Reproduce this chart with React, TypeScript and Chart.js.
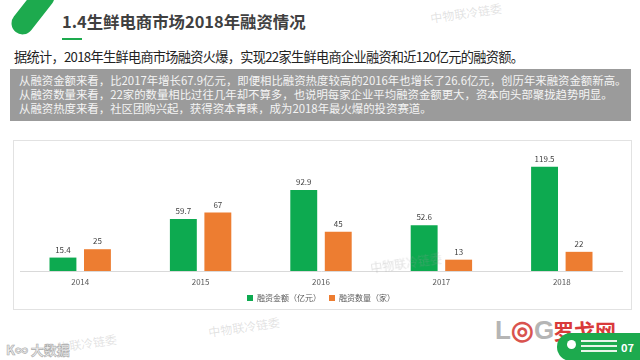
import React, { useEffect, useRef } from "react";
import { Chart, registerables } from "chart.js";

Chart.register(...registerables);

const years = ["2014", "2015", "2016", "2017", "2018"];
const amountSeries = [15.4, 59.7, 92.9, 52.6, 119.5];
const countSeries = [25, 67, 45, 13, 22];
const seriesNames = ["融资金额（亿元）", "融资数量（家）"];
const colors = ["#0DAA50", "#ED7D31"];

const FONT = '"Noto Sans CJK SC", "Noto Sans", sans-serif';

const valueLabels = {
  id: "valueLabels",
  afterDatasetsDraw(chart: any) {
    const ctx = chart.ctx;
    ctx.save();
    ctx.font = `8px ${FONT}`;
    ctx.fillStyle = "#404040";
    ctx.textAlign = "center";
    ctx.textBaseline = "bottom";
    chart.data.datasets.forEach((ds: any, i: number) => {
      const meta = chart.getDatasetMeta(i);
      meta.data.forEach((bar: any, j: number) => {
        ctx.fillText(String(ds.data[j]), bar.x, bar.y - 4);
      });
    });
    ctx.restore();
  },
};

function BarChart() {
  const ref = useRef<HTMLCanvasElement | null>(null);
  useEffect(() => {
    if (!ref.current) return;
    const chart = new Chart(ref.current, {
      type: "bar",
      data: {
        labels: years,
        datasets: [
          { label: seriesNames[0], data: amountSeries, backgroundColor: colors[0] },
          { label: seriesNames[1], data: countSeries, backgroundColor: colors[1] },
        ],
      },
      options: {
        responsive: false,
        animation: false,
        layout: { padding: { left: 6, right: 8, top: 8, bottom: 0 } },
        datasets: {
          bar: { categoryPercentage: 0.573, barPercentage: 0.78 },
        },
        scales: {
          x: {
            grid: { display: false, drawTicks: false },
            border: { color: "#d9d9d9", width: 1 },
            ticks: { font: { size: 8, family: FONT }, color: "#595959", padding: 6 },
            afterFit(scale: any) {
              scale.height = 15;
            },
          },
          y: { display: false, min: 0, max: 140 },
        },
        plugins: {
          legend: {
            position: "bottom",
            labels: {
              boxWidth: 6,
              boxHeight: 6,
              padding: 8,
              font: { size: 8, family: FONT },
              color: "#595959",
            },
          },
          tooltip: { enabled: false },
        },
      },
      plugins: [valueLabels],
    });
    return () => chart.destroy();
  }, []);
  return (
    <canvas
      ref={ref}
      width={616}
      height={171}
      style={{ position: "absolute", left: 14, top: 141, width: 616, height: 171 }}
    />
  );
}

const wm: React.CSSProperties = {
  position: "absolute",
  color: "rgba(150,150,150,0.28)",
  fontSize: 12,
  fontFamily: FONT,
  transform: "rotate(-8deg)",
  whiteSpace: "nowrap",
};

export default function App() {
  return (
    <div
      style={{
        position: "absolute",
        left: 0,
        top: 0,
        width: 640,
        height: 360,
        background: "#ffffff",
        overflow: "hidden",
        fontFamily: FONT,
      }}
    >
      {/* green leaf */}
      <div
        style={{
          position: "absolute",
          left: 22,
          top: -18,
          width: 22,
          height: 56,
          borderRadius: 11,
          background: "#1DAA4E",
          transform: "rotate(38deg)",
        }}
      />
      <div
        style={{
          position: "absolute",
          left: 62,
          top: 9,
          fontSize: 16.4,
          fontWeight: 700,
          color: "#404040",
          whiteSpace: "nowrap",
        }}
      >
        1.4生鲜电商市场2018年融资情况
      </div>
      <div
        style={{ position: "absolute", left: 62, top: 38, width: 20, height: 2, background: "#1DAA4E" }}
      />
      <div
        style={{
          position: "absolute",
          left: 14,
          top: 47,
          fontSize: 13.2,
          letterSpacing: -0.7,
          color: "#222",
          whiteSpace: "nowrap",
        }}
      >
        据统计，2018年生鲜电商市场融资火爆，实现22家生鲜电商企业融资和近120亿元的融资额。
      </div>
      <div
        style={{
          position: "absolute",
          left: 10,
          top: 69,
          width: 621,
          height: 52,
          background: "#9b9b9b",
        }}
      />
      <div
        style={{
          position: "absolute",
          left: 19,
          top: 73,
          fontSize: 11.4,
          lineHeight: "14px",
          color: "#f4f4f4",
          whiteSpace: "nowrap",
        }}
      >
        <div>从融资金额来看，比2017年增长67.9亿元，即便相比融资热度较高的2016年也增长了26.6亿元，创历年来融资金额新高。</div>
        <div>从融资数量来看，22家的数量相比过往几年却不算多，也说明每家企业平均融资金额更大，资本向头部聚拢趋势明显。</div>
        <div>从融资热度来看，社区团购兴起，获得资本青睐，成为2018年最火爆的投资赛道。</div>
      </div>
      {/* chart frame */}
      <div
        style={{
          position: "absolute",
          left: 13,
          top: 140,
          width: 617,
          height: 168,
          border: "1px solid #e2e2e2",
        }}
      />
      <BarChart />
      {/* watermarks */}
      <div style={{ ...wm, left: 430, top: 4 }}>中物联冷链委</div>
      <div style={{ ...wm, left: 370, top: 254 }}>中物联冷链委</div>
      <div style={{ ...wm, left: 208, top: 318 }}>中物联冷链委</div>
      <div style={{ ...wm, left: 45, top: 335 }}>中物联冷链委</div>
      {/* bottom-left logo */}
      <div
        style={{
          position: "absolute",
          left: 6,
          top: 340,
          fontSize: 13,
          fontWeight: 700,
          color: "#eeeeee",
          WebkitTextStroke: "0.6px #aaaaaa",
          whiteSpace: "nowrap",
        }}
      >
        K∞ 大数据
      </div>
      {/* bottom-right logo */}
      <div
        style={{
          position: "absolute",
          left: 495,
          top: 315,
          fontSize: 26,
          fontWeight: 700,
          color: "#b5b5b5",
          fontFamily: '"Liberation Sans", sans-serif',
          whiteSpace: "nowrap",
        }}
      >
        L<span style={{ color: "#d9534f" }}>◎</span>G
      </div>
      <div
        style={{
          position: "absolute",
          left: 553,
          top: 315,
          fontSize: 21,
          fontWeight: 700,
          color: "#d93a3a",
          whiteSpace: "nowrap",
        }}
      >
        罗戈网
      </div>
      <div
        style={{
          position: "absolute",
          left: 557,
          top: 333,
          width: 100,
          height: 28,
          borderRadius: 14,
          background: "#1DAA4E",
        }}
      />
      <div
        style={{
          position: "absolute",
          left: 567,
          top: 340,
          width: 9,
          height: 9,
          borderRadius: 5,
          background: "#ffffff",
        }}
      />
      <div style={{ position: "absolute", left: 581, top: 340, width: 36, height: 2, background: "#e8f5e9" }} />
      <div style={{ position: "absolute", left: 581, top: 345, width: 36, height: 2, background: "#e8f5e9" }} />
      <div style={{ position: "absolute", left: 581, top: 350, width: 36, height: 2, background: "#e8f5e9" }} />
      <div
        style={{
          position: "absolute",
          left: 621,
          top: 339,
          fontSize: 11,
          fontWeight: 700,
          color: "#ffffff",
        }}
      >
        07
      </div>
    </div>
  );
}
